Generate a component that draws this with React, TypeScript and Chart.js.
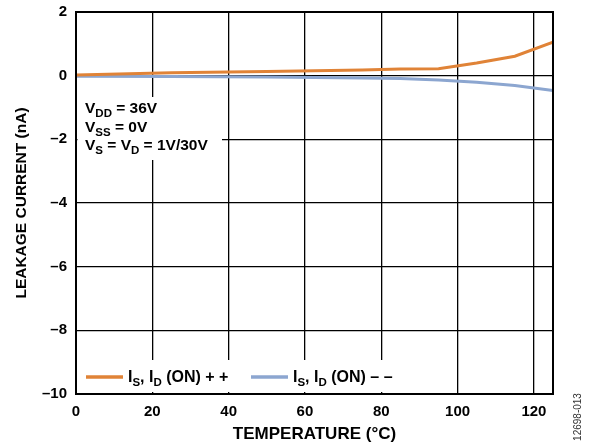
import React, { useEffect, useRef } from "react";
import { Chart, registerables } from "chart.js";

Chart.register(...registerables);

const temperatures = [0, 25, 50, 75, 85, 95, 105, 115, 125];
const leakagePlus = [0.02, 0.09, 0.13, 0.18, 0.21, 0.22, 0.4, 0.61, 1.05];
const leakageMinus = [-0.02, -0.03, -0.04, -0.07, -0.09, -0.14, -0.21, -0.31, -0.47];
const xTicks = [0, 20, 40, 60, 80, 100, 120];
const yTicks = [-10, -8, -6, -4, -2, 0, 2];
const seriesNames = ["I_S, I_D (ON) + +", "I_S, I_D (ON) – –"];
const conditions = ["V_DD = 36V", "V_SS = 0V", "V_S = V_D = 1V/30V"];

const ORANGE = "#E08337";
const BLUE = "#8CA6D0";
const FONT = "'Liberation Sans', Arial, sans-serif";

function parseRich(s: string) {
  const segs: { t: string; sub: boolean }[] = [];
  let i = 0;
  let buf = "";
  while (i < s.length) {
    if (s[i] === "_") {
      if (buf) segs.push({ t: buf, sub: false });
      buf = "";
      i++;
      let sub = "";
      while (i < s.length && /[A-Za-z]/.test(s[i])) {
        sub += s[i];
        i++;
      }
      segs.push({ t: sub, sub: true });
    } else {
      buf += s[i];
      i++;
    }
  }
  if (buf) segs.push({ t: buf, sub: false });
  return segs;
}

function drawRich(ctx: CanvasRenderingContext2D, s: string, x: number, y: number, size: number, subSize: number) {
  let cx = x;
  ctx.textAlign = "left";
  ctx.textBaseline = "alphabetic";
  for (const seg of parseRich(s)) {
    ctx.font = `bold ${seg.sub ? subSize : size}px ${FONT}`;
    ctx.fillText(seg.t, cx, seg.sub ? y + 4 : y);
    cx += ctx.measureText(seg.t).width;
  }
  return cx;
}

const overlayPlugin = {
  id: "overlay",
  beforeDatasetsDraw(chart: any) {
    const { ctx, chartArea } = chart;
    const L = chartArea.left;
    ctx.save();
    ctx.fillStyle = "#fff";
    ctx.fillRect(L + 1.5, 97, 222 - L - 1.5, 63);
    ctx.fillRect(L + 1.5, 360, 405 - L - 1.5, chartArea.bottom - 2 - 360);
    ctx.fillStyle = "#000";
    conditions.forEach((c, i) => {
      drawRich(ctx, c, 85, 113 + i * 18.5, 15.5, 11.5);
    });
    const colors = [ORANGE, BLUE];
    const starts = [86, 251];
    seriesNames.forEach((name, i) => {
      ctx.strokeStyle = colors[i];
      ctx.lineWidth = 3.5;
      ctx.beginPath();
      ctx.moveTo(starts[i], 377);
      ctx.lineTo(starts[i] + 37, 377);
      ctx.stroke();
      ctx.fillStyle = "#000";
      drawRich(ctx, name, starts[i] + 42, 382, 16, 11.5);
    });
    ctx.restore();
  },
  afterDraw(chart: any) {
    const { ctx, chartArea } = chart;
    ctx.save();
    ctx.strokeStyle = "#000";
    ctx.lineWidth = 2;
    ctx.strokeRect(chartArea.left, chartArea.top, chartArea.right - chartArea.left, chartArea.bottom - chartArea.top);
    ctx.translate(578, 417);
    ctx.rotate(-Math.PI / 2);
    ctx.font = `10px ${FONT}`;
    ctx.fillStyle = "#333";
    ctx.textAlign = "center";
    ctx.textBaseline = "middle";
    ctx.fillText("12698-013", 0, 0);
    ctx.restore();
  },
};

export default function App() {
  const ref = useRef<HTMLCanvasElement>(null);
  useEffect(() => {
    if (!ref.current) return;
    const chart = new Chart(ref.current, {
      type: "line",
      data: {
        datasets: [
          {
            label: seriesNames[0],
            data: temperatures.map((t, i) => ({ x: t, y: leakagePlus[i] })),
            borderColor: ORANGE,
            borderWidth: 3,
            pointRadius: 0,
            tension: 0,
          },
          {
            label: seriesNames[1],
            data: temperatures.map((t, i) => ({ x: t, y: leakageMinus[i] })),
            borderColor: BLUE,
            borderWidth: 3,
            pointRadius: 0,
            tension: 0,
          },
        ],
      },
      options: {
        responsive: false,
        animation: false,
        devicePixelRatio: 1,
        layout: { padding: { top: 12, right: 41, left: 0, bottom: 0 } },
        plugins: { legend: { display: false }, tooltip: { enabled: false } },
        scales: {
          x: {
            type: "linear",
            min: 0,
            max: 125,
            afterFit: (s: any) => {
              s.height = 52;
              s.paddingLeft = 0;
              s.paddingRight = 0;
            },
            afterBuildTicks: (s: any) => {
              s.ticks = xTicks.map((v) => ({ value: v }));
            },
            ticks: {
              includeBounds: false,
              padding: 9,
              color: "#000",
              font: { family: FONT, size: 15, weight: "bold" },
              maxRotation: 0,
              callback: (v: any) => String(v),
            },
            grid: { color: "#000", lineWidth: 1.3, drawTicks: false },
            border: { color: "#000", width: 2 },
            title: {
              display: true,
              text: "TEMPERATURE (°C)",
              color: "#000",
              font: { family: FONT, size: 17, weight: "bold" },
              padding: { top: 0, bottom: 1 },
            },
          },
          y: {
            type: "linear",
            min: -10,
            max: 2,
            afterFit: (s: any) => {
              s.width = 76;
              s.paddingTop = 0;
              s.paddingBottom = 0;
            },
            afterBuildTicks: (s: any) => {
              s.ticks = yTicks.map((v) => ({ value: v }));
            },
            ticks: {
              padding: 9,
              color: "#000",
              font: { family: FONT, size: 15, weight: "bold" },
              callback: (v: any) => (Number(v) < 0 ? "–" + Math.abs(Number(v)) : String(v)),
            },
            grid: { color: "#000", lineWidth: 1.3, drawTicks: false },
            border: { color: "#000", width: 2 },
            title: {
              display: true,
              text: "LEAKAGE CURRENT (nA)",
              color: "#000",
              font: { family: FONT, size: 15.5, weight: "bold" },
              padding: { top: 12, bottom: 0 },
            },
          },
        },
      },
      plugins: [overlayPlugin],
    });
    return () => chart.destroy();
  }, []);
  return (
    <div style={{ position: "fixed", left: 0, top: 0, width: 594, height: 446, background: "#fff" }}>
      <canvas ref={ref} width={594} height={446} style={{ width: 594, height: 446, display: "block" }} />
    </div>
  );
}
